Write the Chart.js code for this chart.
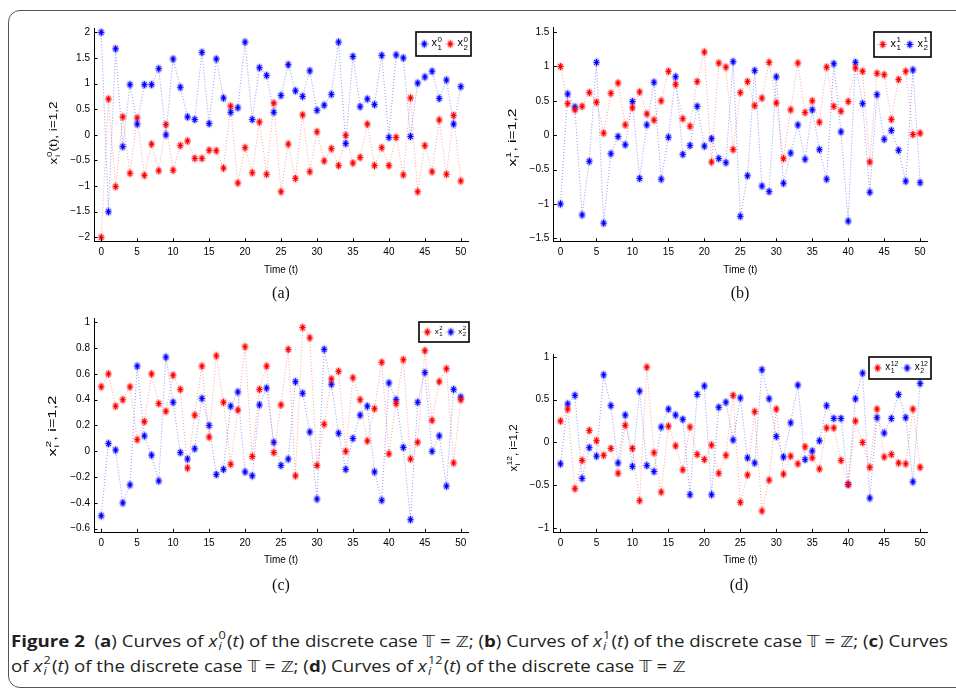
<!DOCTYPE html>
<html>
<head>
<meta charset="utf-8">
<title>Figure 2</title>
<script src="https://cdn.jsdelivr.net/npm/chart.js@4.4.1/dist/chart.umd.min.js"></script>
<style>
    html, body { margin: 0; padding: 0; background: #fff; }
    body { width: 956px; height: 691px; position: relative; overflow: hidden; }
    #frame { position: absolute; left: 8px; top: 10px; width: 1000px; height: 676px; border: 1.4px solid #555; border-radius: 12px; }
    canvas { position: absolute; }
    .sublabel { position: absolute; width: 40px; text-align: center; font: 16px "Liberation Serif", "DejaVu Serif", serif; color: #111; line-height: 18px; }
    #caption { position: absolute; left: 11px; top: 629px; font: 16px "Open Sans", "Noto Sans", sans-serif; line-height: 24px; color: #231f20; white-space: nowrap; transform-origin: 0 0; }
    #caption b { font-weight: 700; }
    .ss { display: inline-flex; flex-direction: column; font-size: 0.68em; line-height: 1; vertical-align: 0.7em; margin: 0 1px 0 1px; }
    .bb { font-family: "DejaVu Sans", "Noto Sans", sans-serif; font-size: 0.95em; }
</style>
</head>
<body>
<div id="frame"></div>

<canvas id="panelA" width="480" height="300" style="left:0px;top:0px"></canvas>
<canvas id="panelB" width="480" height="300" style="left:460px;top:0px"></canvas>
<canvas id="panelC" width="480" height="300" style="left:0px;top:290px"></canvas>
<canvas id="panelD" width="480" height="300" style="left:460px;top:290px"></canvas>

<div class="sublabel" style="left:261px;top:284px">(a)</div>
<div class="sublabel" style="left:720px;top:284px">(b)</div>
<div class="sublabel" style="left:261px;top:576px">(c)</div>
<div class="sublabel" style="left:719px;top:576px">(d)</div>

<div id="caption">
    <div id="capLine1"><b>Figure 2</b>&nbsp; (<b>a</b>) Curves of <i>x</i><span class="ss"><span>0</span><span><i>i</i></span></span>(<i>t</i>) of the discrete case <span class="bb">𝕋</span> = <span class="bb">ℤ</span>; (<b>b</b>) Curves of <i>x</i><span class="ss"><span>1</span><span><i>i</i></span></span>(<i>t</i>) of the discrete case <span class="bb">𝕋</span> = <span class="bb">ℤ</span>; (<b>c</b>) Curves</div>
    <div>of <i>x</i><span class="ss"><span>2</span><span><i>i</i></span></span>(<i>t</i>) of the discrete case <span class="bb">𝕋</span> = <span class="bb">ℤ</span>; (<b>d</b>) Curves of <i>x</i><span class="ss"><span>12</span><span><i>i</i></span></span>(<i>t</i>) of the discrete case <span class="bb">𝕋</span> = <span class="bb">ℤ</span></div>
</div>

<script>
// time index (categories) and tick labels
const timeSteps = [0, 1, 2, 3, 4, 5, 6, 7, 8, 9, 10, 11, 12, 13, 14, 15, 16, 17, 18, 19, 20,
    21, 22, 23, 24, 25, 26, 27, 28, 29, 30, 31, 32, 33, 34, 35, 36, 37, 38, 39, 40,
    41, 42, 43, 44, 45, 46, 47, 48, 49, 50];
const timeTicks = [0, 5, 10, 15, 20, 25, 30, 35, 40, 45, 50];
const yTicksA = [-2, -1.5, -1, -0.5, 0, 0.5, 1, 1.5, 2];
const yTicksB = [-1.5, -1, -0.5, 0, 0.5, 1, 1.5];
const yTicksC = [-0.6, -0.4, -0.2, 0, 0.2, 0.4, 0.6, 0.8, 1];
const yTicksD = [-1, -0.5, 0, 0.5, 1];

// (a) x_i^0
const x1_0 = [2.00, -1.50, 1.68, -0.23, 0.98, 0.21, 0.98, 0.98, 1.29, 0.00,
    1.48, 0.93, 0.35, 0.30, 1.61, 0.22, 1.48, 0.72, 0.44, 0.53,
    1.81, 0.30, 1.31, 1.16, 0.44, 0.77, 1.37, 0.86, 0.75, 1.25,
    0.48, 0.58, 0.79, 1.81, -0.17, 1.53, 0.55, 0.70, 0.59, 1.55,
    -0.05, 1.56, 1.50, -0.03, 1.01, 1.13, 1.24, 0.71, 1.07, 0.21, 0.94];
const x2_0 = [-2.00, 0.70, -1.01, 0.35, -0.75, 0.33, -0.79, -0.18, -0.70, 0.20,
    -0.69, -0.21, -0.12, -0.46, -0.46, -0.30, -0.31, -0.65, 0.56, -0.94,
    -0.25, -0.74, 0.25, -0.77, 0.62, -1.11, -0.18, -0.85, 0.39, -0.72,
    0.06, -0.51, -0.27, -0.60, -0.01, -0.55, -0.44, 0.21, -0.60, -0.25,
    -0.60, -0.05, -0.78, 0.72, -1.11, -0.21, -0.72, 0.29, -0.77, 0.38, -0.90];

// (b) x_i^1
const x1_1 = [1.00, 0.46, 0.37, 0.42, 0.62, 0.48, 0.03, 0.61, 0.76, 0.15,
    0.40, 0.63, 0.31, 0.22, 0.50, 0.93, 0.74, 0.24, 0.13, 0.78,
    1.21, -0.39, 1.05, 0.99, -0.21, 0.62, 0.78, 0.43, 0.54, 1.06,
    0.47, -0.34, 0.37, 1.05, 0.33, 0.50, 0.19, 0.99, 0.42, 0.35,
    0.49, 0.98, 0.93, -0.39, 0.90, 0.88, 0.23, 0.81, 0.93, 0.01, 0.03];
const x2_1 = [-1.00, 0.60, 0.41, -1.16, -0.38, 1.06, -1.28, -0.27, -0.02, -0.14,
    0.49, -0.63, 0.15, 0.77, -0.64, -0.03, 0.85, -0.28, -0.15, 0.42,
    -0.16, -0.05, -0.34, -0.40, 1.07, -1.18, -0.59, 0.94, -0.74, -0.82,
    0.85, -0.70, -0.26, 0.15, -0.35, 0.37, -0.21, -0.64, 1.04, 0.05,
    -1.25, 1.06, 0.46, -0.83, 0.59, -0.06, 0.07, -0.22, -0.67, 0.95, -0.69];

// (c) x_i^2
const x1_2 = [0.50, 0.60, 0.35, 0.40, 0.50, 0.09, 0.23, 0.60, 0.37, 0.31,
    0.59, 0.48, -0.13, 0.28, 0.66, 0.11, 0.74, 0.38, -0.10, 0.32,
    0.81, -0.04, 0.48, 0.66, -0.01, 0.36, 0.79, -0.19, 0.96, 0.88,
    -0.11, 0.21, 0.56, 0.62, 0.00, 0.57, 0.40, 0.08, 0.33, 0.69,
    -0.02, 0.37, 0.71, -0.06, 0.07, 0.78, 0.24, 0.54, 0.64, -0.09, 0.40];
const x2_2 = [-0.50, 0.06, 0.01, -0.40, -0.26, 0.66, 0.12, -0.03, -0.23, 0.73,
    0.38, -0.01, -0.06, 0.02, 0.41, 0.20, -0.18, -0.14, 0.35, 0.46,
    -0.16, -0.19, 0.36, 0.49, 0.07, -0.11, -0.06, 0.54, 0.45, 0.15,
    -0.37, 0.79, 0.52, 0.14, -0.14, 0.10, 0.28, 0.35, -0.16, -0.38,
    0.53, 0.40, 0.03, -0.53, 0.38, 0.61, 0.00, 0.12, -0.27, 0.48, 0.42];

// (d) x_i^12
const x1_12 = [0.25, 0.39, -0.54, -0.21, 0.14, 0.02, -0.15, -0.07, -0.36, 0.20,
    -0.07, -0.68, 0.88, -0.12, -0.58, 0.19, -0.04, -0.32, 0.18, -0.14,
    -0.20, -0.03, -0.36, -0.15, 0.55, -0.70, -0.38, 0.36, -0.80, -0.44,
    0.39, -0.37, -0.16, -0.25, -0.05, -0.18, -0.31, 0.17, 0.17, -0.21,
    -0.49, 0.25, 0.00, -0.29, 0.39, -0.17, -0.14, -0.24, -0.25, 0.39, -0.29];
const x2_12 = [-0.25, 0.45, 0.55, -0.42, -0.06, -0.16, 0.79, 0.43, -0.24, 0.32,
    -0.28, 0.60, -0.27, -0.34, 0.18, 0.39, 0.32, 0.27, -0.61, 0.56,
    0.66, -0.61, 0.41, 0.47, 0.03, 0.52, -0.18, -0.24, 0.85, 0.51,
    0.07, -0.17, 0.23, 0.67, -0.20, -0.10, 0.02, 0.43, 0.28, 0.28,
    -0.49, 0.51, 0.81, -0.65, 0.29, 0.11, 0.28, 0.56, 0.29, -0.46, 0.69];

const FONT = '"Liberation Sans", Arial, Helvetica, sans-serif';
const tickFont = { family: FONT, size: 10 };

// matlab-ish '*' marker with a soft halo
function makeMarker(rgb) {
    const c = document.createElement('canvas');
    c.width = 9;
    c.height = 11;
    const g = c.getContext('2d');
    g.fillStyle = `rgba(${rgb},0.16)`;
    g.beginPath();
    g.ellipse(4.5, 5.5, 3.8, 4.8, 0, 0, Math.PI * 2);
    g.fill();
    g.strokeStyle = `rgb(${rgb})`;
    g.lineWidth = 1.1;
    g.beginPath();
    [0, 45, 90, 135].forEach(a => {
        const r = a * Math.PI / 180;
        g.moveTo(4.5 - 3 * Math.cos(r), 5.5 - 3.4 * Math.sin(r));
        g.lineTo(4.5 + 3 * Math.cos(r), 5.5 + 3.4 * Math.sin(r));
    });
    g.stroke();
    return c;
}

const BLUE = { marker: makeMarker('0,0,255'), line: 'rgba(40,40,255,0.5)' };
const RED = { marker: makeMarker('255,0,0'), line: 'rgba(255,40,40,0.45)' };

function fmtTick(v) {
    if (v === 0) return '0';
    return (v < 0 ? '\u2212' : '') + Number(Math.abs(v).toFixed(2)).toString();
}

// x with stacked super/subscript
function varWidth(ctx, fs, sup, sub) {
    ctx.font = fs + 'px ' + FONT;
    const wx = ctx.measureText('x').width;
    ctx.font = Math.round(fs * 0.72) + 'px ' + FONT;
    return wx + 0.5 + Math.max(ctx.measureText(sup).width, ctx.measureText(sub).width);
}

function drawVar(ctx, x, y, fs, sup, sub) {
    ctx.font = fs + 'px ' + FONT;
    ctx.fillText('x', x, y);
    const wx = ctx.measureText('x').width;
    ctx.font = Math.round(fs * 0.72) + 'px ' + FONT;
    ctx.fillText(sup, x + wx + 0.5, y - fs * 0.42);
    ctx.fillText(sub, x + wx + 0.5, y + fs * 0.3);
    return varWidth(ctx, fs, sup, sub);
}

function drawYLabel(ctx, lab) {
    const fs = 11;
    ctx.save();
    ctx.translate(lab.x, lab.cy);
    ctx.rotate(-Math.PI / 2);
    ctx.fillStyle = '#000';
    ctx.textBaseline = 'alphabetic';
    ctx.textAlign = 'left';
    const wv = varWidth(ctx, fs, lab.sup, 'i');
    ctx.font = fs + 'px ' + FONT;
    const wt = ctx.measureText(lab.tail).width;
    const total = wv + wt;
    ctx.scale(lab.len / total, 1);
    let x = -total / 2;
    x += drawVar(ctx, x, 0, fs, lab.sup, 'i');
    ctx.font = fs + 'px ' + FONT;
    ctx.fillText(lab.tail, x, 0);
    ctx.restore();
}

function drawLegend(ctx, lg) {
    const pad = 3, gap = 2, gap2 = 3;
    const textW = lg.entries.map(e => varWidth(ctx, lg.fs, e.sup, e.sub));
    const seg = Math.max(8, (lg.w - 2 * pad - 2 * gap - gap2 - textW[0] - textW[1]) / 2);
    const midY = lg.top + lg.h / 2;
    ctx.save();
    ctx.fillStyle = '#fff';
    ctx.fillRect(lg.left, lg.top, lg.w, lg.h);
    ctx.strokeStyle = '#000';
    ctx.lineWidth = 1.6;
    ctx.strokeRect(lg.left, lg.top, lg.w, lg.h);
    let x = lg.left + pad;
    lg.entries.forEach((e, i) => {
        ctx.strokeStyle = e.style.line;
        ctx.lineWidth = 1;
        ctx.setLineDash([1, 2]);
        ctx.beginPath();
        ctx.moveTo(x, midY);
        ctx.lineTo(x + seg, midY);
        ctx.stroke();
        ctx.setLineDash([]);
        const m = e.style.marker;
        ctx.drawImage(m, x + seg / 2 - m.width / 2, midY - m.height / 2);
        x += seg + gap;
        ctx.fillStyle = '#000';
        ctx.textBaseline = 'alphabetic';
        ctx.textAlign = 'left';
        drawVar(ctx, x, midY + lg.fs * 0.22, lg.fs, e.sup, e.sub);
        x += textW[i] + gap2;
    });
    ctx.restore();
}

// per panel decorations (axis label + legend), in canvas coordinates
const decor = {
    panelA: {
        ylabel: { x: 56.5, cy: 133, len: 63, sup: '0', tail: '(t), i=1,2' },
        legend: { left: 416, top: 32, w: 55, h: 24, fs: 11,
            entries: [{ style: BLUE, sup: '0', sub: '1' }, { style: RED, sup: '0', sub: '2' }] }
    },
    panelB: {
        ylabel: { x: 56, cy: 137.5, len: 58, sup: '1', tail: ', i=1,2' },
        legend: { left: 414, top: 32, w: 57, h: 25, fs: 11,
            entries: [{ style: RED, sup: '1', sub: '1' }, { style: BLUE, sup: '1', sub: '2' }] }
    },
    panelC: {
        ylabel: { x: 56, cy: 136, len: 61, sup: '2', tail: ', i=1,2' },
        legend: { left: 419, top: 32, w: 50, h: 20, fs: 8,
            entries: [{ style: RED, sup: '2', sub: '1' }, { style: BLUE, sup: '2', sub: '2' }] }
    },
    panelD: {
        ylabel: { x: 57, cy: 158, len: 47, sup: '12', tail: ', i=1,2' },
        legend: { left: 409, top: 67, w: 62, h: 22, fs: 10,
            entries: [{ style: RED, sup: '12', sub: '1' }, { style: BLUE, sup: '12', sub: '2' }] }
    }
};

const decorPlugin = {
    id: 'panelDecor',
    afterDraw(chart) {
        const cfg = decor[chart.canvas.id];
        const ctx = chart.ctx;
        const xs = chart.scales.x;
        const ys = chart.scales.y;
        ctx.save();
        // inward tick marks
        ctx.strokeStyle = '#000';
        ctx.lineWidth = 1;
        ctx.beginPath();
        xs.ticks.forEach(t => {
            const px = Math.round(xs.getPixelForValue(t.value)) + 0.5;
            ctx.moveTo(px, ys.bottom);
            ctx.lineTo(px, ys.bottom - 3.5);
        });
        ys.ticks.forEach(t => {
            const py = Math.round(ys.getPixelForValue(t.value)) + 0.5;
            ctx.moveTo(xs.left, py);
            ctx.lineTo(xs.left + 3.5, py);
        });
        ctx.stroke();
        ctx.restore();
        drawYLabel(ctx, cfg.ylabel);
        drawLegend(ctx, cfg.legend);
    }
};

function buildPanel(id, p) {
    return new Chart(document.getElementById(id), {
        type: 'line',
        data: {
            labels: timeSteps,
            datasets: p.series.map(s => ({
                data: s.values,
                borderColor: s.style.line,
                borderWidth: 1,
                borderDash: [1, 2],
                pointStyle: s.style.marker,
                pointRadius: 4,
                fill: false,
                tension: 0
            }))
        },
        options: {
            responsive: false,
            animation: false,
            events: [],
            layout: { padding: { top: p.padTop, right: p.padRight, left: 0, bottom: 0 } },
            plugins: { legend: { display: false }, tooltip: { enabled: false } },
            scales: {
                x: {
                    type: 'linear',
                    min: -1,
                    max: 51,
                    grid: { display: false, drawTicks: false },
                    border: { color: '#000', width: 1 },
                    afterBuildTicks: s => { s.ticks = timeTicks.map(v => ({ value: v })); },
                    afterFit: s => { s.height = p.xAxisH; },
                    ticks: { font: tickFont, color: '#000', padding: 5, maxRotation: 0, autoSkip: false },
                    title: { display: true, text: 'Time (t)', font: tickFont, color: '#000', padding: { top: 0, bottom: 23.3 } }
                },
                y: {
                    type: 'linear',
                    min: p.yMin,
                    max: p.yMax,
                    grid: { display: false, drawTicks: false },
                    border: { color: '#000', width: 1 },
                    afterBuildTicks: s => { s.ticks = p.yTicks.map(v => ({ value: v })); },
                    afterFit: s => { s.width = p.yAxisW; },
                    ticks: { font: tickFont, color: '#000', padding: 4, autoSkip: false, callback: v => fmtTick(v) }
                }
            }
        },
        plugins: [decorPlugin]
    });
}

buildPanel('panelA', {
    series: [{ values: x1_0, style: BLUE }, { values: x2_0, style: RED }],
    yTicks: yTicksA, yMin: -2.085, yMax: 2.085,
    padTop: 28, padRight: 12, yAxisW: 94, xAxisH: 58.3
});
buildPanel('panelB', {
    series: [{ values: x1_1, style: RED }, { values: x2_1, style: BLUE }],
    yTicks: yTicksB, yMin: -1.55, yMax: 1.57,
    padTop: 27.3, padRight: 12.7, yAxisW: 93.3, xAxisH: 58.3
});
buildPanel('panelC', {
    series: [{ values: x1_2, style: RED }, { values: x2_2, style: BLUE }],
    yTicks: yTicksC, yMin: -0.628, yMax: 1.031,
    padTop: 28.3, padRight: 12, yAxisW: 94, xAxisH: 57.7
});
buildPanel('panelD', {
    series: [{ values: x1_12, style: RED }, { values: x2_12, style: BLUE }],
    yTicks: yTicksD, yMin: -1.05, yMax: 1.03,
    padTop: 64.3, padRight: 12.7, yAxisW: 93.3, xAxisH: 57.7
});

// squeeze the caption to the measured line width
const cap = document.getElementById('caption');
const line1 = document.getElementById('capLine1');
const w1 = line1.getBoundingClientRect().width;
if (w1 > 0) cap.style.transform = `scaleX(${937 / w1})`;
</script>
</body>
</html>
